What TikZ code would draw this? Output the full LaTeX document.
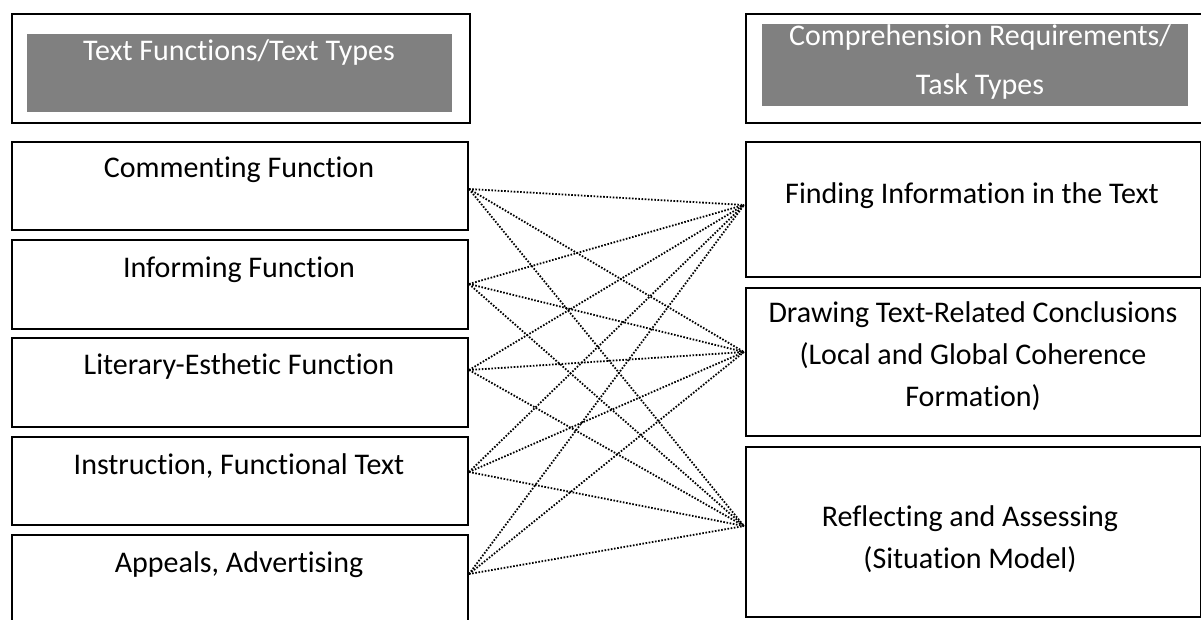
\documentclass[tikz,border=0pt]{standalone}
\usepackage{fontspec}
\setmainfont[Ligatures=NoCommon]{Carlito}
\usetikzlibrary{positioning}

\begin{document}
\begin{tikzpicture}[x=1pt,y=-1pt,
  box/.style={draw,line width=1.6pt,rectangle,anchor=north west,inner sep=0pt},
  headfill/.style={fill=gray,rectangle,anchor=north west,inner sep=0pt},
  lbl/.style={font=\fontsize{30}{42}\selectfont,align=center,inner sep=0pt},
  hlbl/.style={lbl,text=white,font=\fontsize{30}{49}\selectfont},
  link/.style={line width=1.8pt,dash pattern=on 1.6pt off 1.6pt}]

  \useasboundingbox (0,0) rectangle (1201,619);

  % headers
  \node[box,line width=2pt,minimum width=458pt,minimum height=109pt] (hl) at (11,13) {};
  \node[headfill,minimum width=425pt,minimum height=78pt] (hlf) at (27,34) {};
  \node[hlbl] (hlt) at (239,52) {Text Functions/Text Types};

  \node[box,line width=2pt,minimum width=480pt,minimum height=109pt] (hr) at (745,13) {};
  \node[headfill,minimum width=426pt,minimum height=82pt] (hrf) at (762,24) {};
  \node[hlbl] (hrt) at (980,62) {Comprehension Requirements/\\Task Types};

  % text functions
  \node[box,minimum width=456pt,minimum height=88pt] (c1) at (11,141) {};
  \node[box,minimum width=456pt,minimum height=89pt] (c2) at (11,239) {};
  \node[box,minimum width=456pt,minimum height=89pt] (c3) at (11,337) {};
  \node[box,minimum width=456pt,minimum height=88pt] (c4) at (11,436) {};
  \node[box,minimum width=456pt,minimum height=120pt] (c5) at (11,534) {};

  \node[lbl] (c1t) at (239,170) {Commenting Function};
  \node[lbl] (c2t) at (239,270) {Informing Function};
  \node[lbl] (c3t) at (239,366) {Literary-Esthetic Function};
  \node[lbl] (c4t) at (239,466) {Instruction, Functional Text};
  \node[lbl] (c5t) at (239,565) {Appeals, Advertising};

  % task types
  \node[box,minimum width=455pt,minimum height=135pt] (t1) at (745,141) {};
  \node[box,minimum width=455pt,minimum height=148pt] (t2) at (745,287) {};
  \node[box,minimum width=455pt,minimum height=170pt] (t3) at (745,446) {};

  \node[lbl] (t1t) at (972,196) {Finding Information in the Text};
  \node[lbl] (t2t) at (973,356) {Drawing Text-Related Conclusions\\(Local and Global Coherence\\Formation)};
  \node[lbl] (t3t) at (970,539) {Reflecting and Assessing\\(Situation Model)};

  % connectors
  \coordinate (l1) at (469,189);
  \coordinate (l2) at (469,284);
  \coordinate (l3) at (469,370);
  \coordinate (l4) at (469,472);
  \coordinate (l5) at (469,574);
  \coordinate (r1) at (744,205);
  \coordinate (r2) at (744,352);
  \coordinate (r3) at (744,526);

  \foreach \i in {1,...,5}
    \foreach \j in {1,2,3}
      \draw[link] (l\i) -- (r\j);

\end{tikzpicture}
\end{document}
